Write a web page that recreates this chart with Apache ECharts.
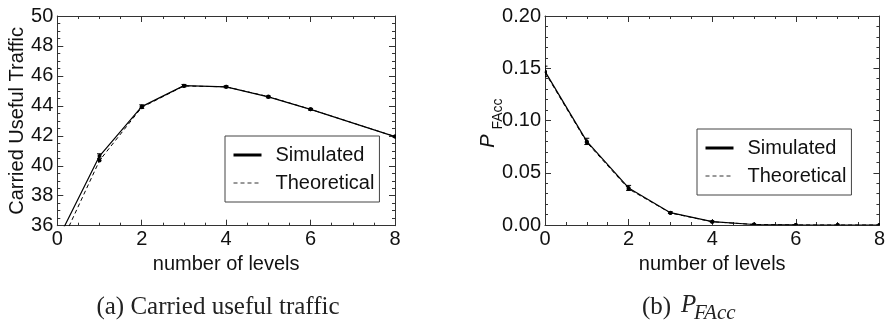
<!DOCTYPE html>
<html>
<head>
<meta charset="utf-8">
<script src="https://cdn.jsdelivr.net/npm/echarts@6/dist/echarts.min.js"></script>
<style>
  html, body { margin: 0; padding: 0; background: #ffffff; }
  #chart { width: 888px; height: 323px; }
</style>
</head>
<body>
<div id="chart"></div>
<script>
// (a) carried useful traffic versus number of levels
const levelsA = [0, 1, 2, 3, 4, 5, 6, 8];
const trafficSimulated = [35.0, 40.65, 43.95, 45.35, 45.27, 44.6, 43.77, 41.95];
const trafficSimulatedErr = [0.1, 0.15, 0.12, 0.08, 0.06, 0.06, 0.06, 0.05];
const trafficTheoretical = [34.27, 40.35, 43.9, 45.33, 45.27, 44.62, 43.77, 41.95];

// (b) P_FAcc versus number of levels
const levelsB = [0, 1, 2, 3, 4, 5, 6, 7, 8];
const pfaccSimulated = [0.147, 0.080, 0.0355, 0.0118, 0.0032, 0.0005, 0.0001, 0, 0];
const pfaccSimulatedErr = [0.005, 0.003, 0.0024, 0.0008, 0.0004, 0.0002, 0.0001, 0, 0];
const pfaccTheoretical = [0.146, 0.079, 0.0345, 0.0115, 0.0031, 0.0005, 0.0001, 0, 0];

const xTicks = [0, 2, 4, 6, 8];
const yTicksA = [36, 38, 40, 42, 44, 46, 48, 50];
const yTicksB = [0, 0.05, 0.10, 0.15, 0.20];

const SANS = '"Liberation Sans", Arial, sans-serif';
const SERIF = '"Liberation Serif", "Times New Roman", serif';
const FRAME = '#333';
const INK = '#111';
const FS = 20;

function zip(xs, ys, es) {
  return xs.map((x, i) => [x, ys[i], es ? es[i] : 0]);
}

function axisBase(position, min, max, interval, minorSplit, showLabel, fmt) {
  return {
    type: 'value',
    position: position,
    min: min,
    max: max,
    interval: interval,
    axisLine: { show: true, onZero: false, lineStyle: { color: FRAME, width: 1 } },
    axisTick: { show: true, inside: true, length: 6, lineStyle: { color: FRAME, width: 1 } },
    minorTick: { show: true, splitNumber: minorSplit, length: 3, lineStyle: { color: FRAME, width: 1 } },
    splitLine: { show: false },
    axisLabel: {
      show: showLabel,
      fontSize: FS,
      fontFamily: SANS,
      color: INK,
      margin: 4,
      formatter: fmt
    }
  };
}

function xTitle(axis) {
  axis.name = 'number of levels';
  axis.nameLocation = 'middle';
  axis.nameGap = 29;
  axis.nameTextStyle = { fontSize: FS, fontFamily: SANS, color: INK };
  return axis;
}

const xA = xTitle(axisBase('bottom', xTicks[0], xTicks[xTicks.length - 1], 2, 4, true, v => String(v)));
const xAtop = axisBase('top', xTicks[0], xTicks[xTicks.length - 1], 2, 4, false);
const xB = xTitle(axisBase('bottom', xTicks[0], xTicks[xTicks.length - 1], 2, 4, true, v => String(v)));
const xBtop = axisBase('top', xTicks[0], xTicks[xTicks.length - 1], 2, 4, false);

const yA = axisBase('left', yTicksA[0], yTicksA[yTicksA.length - 1], 2, 4, true, v => String(v));
yA.name = 'Carried Useful Traffic';
yA.nameLocation = 'middle';
yA.nameGap = 30;
yA.nameRotate = 90;
yA.nameTextStyle = { fontSize: 20, fontFamily: SANS, color: INK };
const yAright = axisBase('right', yTicksA[0], yTicksA[yTicksA.length - 1], 2, 4, false);

const yB = axisBase('left', yTicksB[0], yTicksB[yTicksB.length - 1], 0.05, 5, true, v => v.toFixed(2));
const yBright = axisBase('right', yTicksB[0], yTicksB[yTicksB.length - 1], 0.05, 5, false);

// error bars with caps plus a small dot at every sample
function renderMarks(params, api) {
  const x = api.value(0), y = api.value(1), e = api.value(2);
  const c = api.coord([x, y]);
  const children = [];
  if (e > 0) {
    const hi = api.coord([x, y + e]);
    const lo = api.coord([x, y - e]);
    const st = { stroke: '#000', lineWidth: 1 };
    children.push({ type: 'line', shape: { x1: c[0], y1: lo[1], x2: c[0], y2: hi[1] }, style: st });
    children.push({ type: 'line', shape: { x1: c[0] - 2.5, y1: hi[1], x2: c[0] + 2.5, y2: hi[1] }, style: st });
    children.push({ type: 'line', shape: { x1: c[0] - 2.5, y1: lo[1], x2: c[0] + 2.5, y2: lo[1] }, style: st });
  }
  children.push({ type: 'circle', shape: { cx: c[0], cy: c[1], r: 2 }, style: { fill: '#000' } });
  return { type: 'group', children: children };
}

function lineSeries(name, xi, yi, data, dashed) {
  return {
    name: name,
    type: 'line',
    xAxisIndex: xi,
    yAxisIndex: yi,
    data: data,
    symbol: 'none',
    clip: true,
    itemStyle: { color: '#000' },
    lineStyle: dashed
      ? { color: '#000', width: 1, type: [4, 3] }
      : { color: '#000', width: 1.2 },
    z: dashed ? 3 : 4,
    animation: false
  };
}

function markSeries(xi, yi, data) {
  return {
    name: 'marks',
    type: 'custom',
    xAxisIndex: xi,
    yAxisIndex: yi,
    data: data,
    clip: true,
    renderItem: renderMarks,
    encode: { x: 0, y: 1 },
    z: 5,
    animation: false
  };
}

const hiddenDot = { opacity: 0, color: 'transparent', borderWidth: 0 };

function legendBox(left, top) {
  return {
    left: left,
    top: top,
    orient: 'vertical',
    padding: [9, 5, 9, 7],
    borderColor: '#444',
    borderWidth: 1,
    itemWidth: 28,
    itemHeight: 14,
    itemGap: 8,
    selectedMode: false,
    textStyle: { fontSize: FS, fontFamily: SANS, color: INK, lineHeight: 20, padding: [0, 0, 0, 9] },
    data: [
      { name: 'Simulated', itemStyle: hiddenDot, lineStyle: { width: 3, color: '#000', type: 'solid' } },
      { name: 'Theoretical', itemStyle: hiddenDot, lineStyle: { width: 1, color: '#333', type: [4, 3] } }
    ]
  };
}

const chart = echarts.init(document.getElementById('chart'), null, { renderer: 'canvas' });

chart.setOption({
  backgroundColor: '#ffffff',
  animation: false,
  grid: [
    { left: 57.3, top: 16, width: 337.7, height: 209.7 },
    { left: 545, top: 16, width: 338.3, height: 209 }
  ],
  xAxis: [xA, xAtop, xB, xBtop].map((a, i) => Object.assign(a, { gridIndex: i < 2 ? 0 : 1 })),
  yAxis: [yA, yAright, yB, yBright].map((a, i) => Object.assign(a, { gridIndex: i < 2 ? 0 : 1 })),
  legend: [legendBox(225, 136), legendBox(697, 129)],
  series: [
    lineSeries('Theoretical', 0, 0, zip(levelsA, trafficTheoretical), true),
    lineSeries('Simulated', 0, 0, zip(levelsA, trafficSimulated), false),
    markSeries(0, 0, zip(levelsA, trafficTheoretical)),
    markSeries(0, 0, zip(levelsA, trafficSimulated, trafficSimulatedErr)),
    lineSeries('Theoretical', 2, 2, zip(levelsB, pfaccTheoretical), true),
    lineSeries('Simulated', 2, 2, zip(levelsB, pfaccSimulated), false),
    markSeries(2, 2, zip(levelsB, pfaccTheoretical)),
    markSeries(2, 2, zip(levelsB, pfaccSimulated, pfaccSimulatedErr))
  ],
  graphic: [
    // y-axis title of panel (b): P with subscript FAcc, reading upward
    { type: 'text', x: 488.5, y: 141, rotation: Math.PI / 2,
      style: { text: 'P', font: 'italic 20px ' + SANS, fill: INK, align: 'center', verticalAlign: 'middle' } },
    { type: 'text', x: 498.5, y: 114, rotation: Math.PI / 2,
      style: { text: 'FAcc', font: '14px ' + SANS, fill: INK, align: 'center', verticalAlign: 'middle' } },
    // sub-figure captions
    { type: 'text', x: 218, y: 307,
      style: { text: '(a) Carried useful traffic', font: '25px ' + SERIF, fill: '#222', align: 'center', verticalAlign: 'middle' } },
    { type: 'text', x: 642, y: 307,
      style: { text: '(b)', font: '25px ' + SERIF, fill: '#222', align: 'left', verticalAlign: 'middle' } },
    { type: 'text', x: 681, y: 305,
      style: { text: 'P', font: 'italic 25px ' + SERIF, fill: '#222', align: 'left', verticalAlign: 'middle' } },
    { type: 'text', x: 694, y: 313,
      style: { text: 'FAcc', font: 'italic 21px ' + SERIF, fill: '#222', align: 'left', verticalAlign: 'middle' } }
  ]
});
</script>
</body>
</html>
